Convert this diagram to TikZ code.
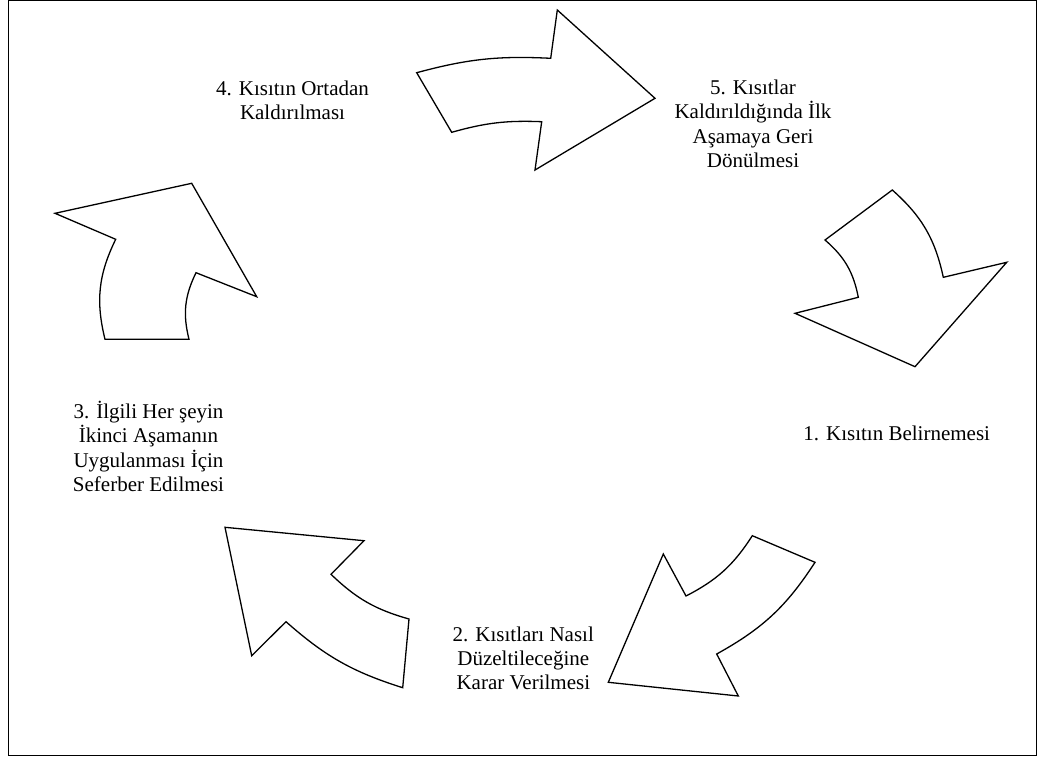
\documentclass[tikz,border=0pt]{standalone}
\usepackage{fontspec}
\setmainfont{Liberation Serif}
\begin{document}
\begin{tikzpicture}[x=1pt,y=-1pt,
  arrowshape/.style={draw=black,line width=1.3pt,line join=miter,fill=white},
  lbl/.style={align=center,font=\fontsize{21}{24.4}\selectfont,inner sep=0pt}]
\useasboundingbox (0,0) rectangle (1040,760);
\draw[line width=1.2pt] (8.5,0.6) rectangle (1036.5,755.8);
% arrow 4 -> 5 (top)
\draw[arrowshape] (416.7,72.7) to[bend left=9] (550.7,58.3) -- (557.3,10) -- (655,98.3) -- (535,170) -- (541.7,121.7) to[bend right=9] (451.7,132.3) -- cycle;
% arrow 5 -> 1 (right)
\draw[arrowshape] (892.3,190) to[bend left=18] (943.3,277.3) -- (1006.7,262.3) -- (915,366.7) -- (795,313.3) -- (858.3,297.3) to[bend right=19] (825,240) -- cycle;
% arrow 1 -> 2 (bottom right)
\draw[arrowshape] (815,562.3) to[bend left=14] (716.7,654) -- (738.3,696) -- (608.3,682.3) -- (663.3,554) -- (686,596) to[bend right=15] (752.3,535.7) -- cycle;
% arrow 2 -> 3 (bottom left)
\draw[arrowshape] (225,527.3) -- (364,540.7) -- (331,574.3) to[bend right=14] (409,619) -- (402.7,687.7) to[bend left=12] (286,621.7) -- (251.7,655.7) -- cycle;
% arrow 3 -> 4 (left)
\draw[arrowshape] (55,213.3) -- (191.7,183.3) -- (256.7,296.7) -- (196,272.7) to[bend right=20] (189,339.3) -- (105,339.3) to[bend left=20] (115.7,239.3) -- cycle;
% labels
\node[lbl] (s4) at (292.5,100.3) {4. Kısıtın Ortadan\\Kaldırılması};
\node[lbl] (s5) at (753,123.7) {5. Kısıtlar\\Kaldırıldığında İlk\\Aşamaya Geri\\Dönülmesi};
\node[lbl] (s1) at (896.7,433.3) {1. Kısıtın Belirnemesi};
\node[lbl] (s2) at (523.3,658.3) {2. Kısıtları Nasıl\\Düzeltileceğine\\Karar Verilmesi};
\node[lbl] (s3) at (148.5,446.3) {3. İlgili Her şeyin\\İkinci Aşamanın\\Uygulanması İçin\\Seferber Edilmesi};
\end{tikzpicture}
\end{document}
